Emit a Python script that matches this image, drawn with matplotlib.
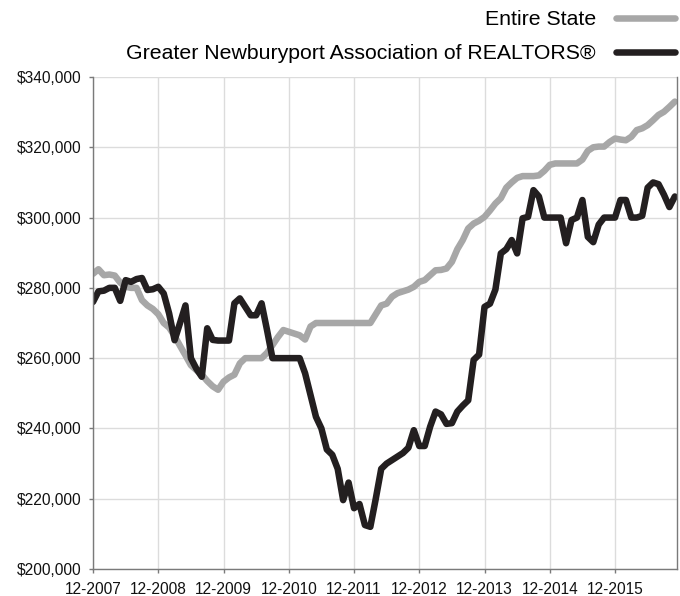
import numpy as np
import matplotlib
matplotlib.use("Agg")
from matplotlib import pyplot as plt
from matplotlib.ticker import FuncFormatter

plt.rcParams['font.family'] = ['Liberation Sans', 'DejaVu Sans']

# median sales price, thousands of dollars, monthly from 12-2007
state = [284, 285.3, 283.6, 283.8, 283.5, 281.5, 280.3, 280, 280, 276.5,
         275, 274, 272.5, 270, 268.7, 266.3, 263.5, 260.8, 258, 256.6,
         255.3, 253.5, 252, 251, 253.3, 254.5, 255.3, 258.5, 260, 260,
         260, 260, 261.5, 263.7, 266, 268, 267.5, 267, 266.5, 265.3,
         269, 270, 270, 270, 270, 270, 270, 270, 270, 270,
         270, 270, 272.5, 275, 275.5, 277.5, 278.5, 279, 279.5, 280.3,
         281.7, 282.2, 283.6, 285, 285.1, 285.5, 287.4, 291, 293.6, 296.9,
         298.3, 299.1, 300.2, 302, 304, 305.5, 308.5, 310, 311.3, 311.8,
         311.8, 311.8, 312, 313.3, 315, 315.4, 315.4, 315.4, 315.4, 315.4,
         316.5, 319, 320, 320.2, 320.2, 321.5, 322.5, 322.2, 322, 323,
         324.9, 325.4, 326.3, 327.7, 329.2, 330.1, 331.5, 333]

newburyport = [276, 279, 279.2, 280, 280, 276.3, 282.2, 281.7, 282.5, 282.8,
               279.4, 279.6, 280.3, 278.4, 272.7, 265.1, 270, 275, 260, 257,
               254.7, 268.5, 265.2, 265, 265, 265, 275.6, 277, 274.6, 272.2,
               272.2, 275.6, 268, 260, 260, 260, 260, 260, 260, 255.7,
               249.5, 243.3, 240, 234, 232.5, 228.5, 219.6, 224.6, 217.3, 218.5,
               212.5, 212, 220, 228.5, 230, 231, 232, 233, 234.5, 239.5,
               235, 235, 240.5, 244.8, 244, 241.3, 241.5, 244.8, 246.5, 248,
               259.5, 261, 274.6, 275.5, 279.5, 289.8, 291, 293.6, 289.8, 299.8,
               300.2, 307.8, 306, 300, 300, 300, 300, 292.7, 299.3, 300,
               305, 294.5, 293, 298, 300, 300, 300, 305, 305, 300,
               300, 300.5, 308.5, 310, 309.5, 306.5, 303, 306]

tick_labels = ['12-2007', '12-2008', '12-2009', '12-2010', '12-2011',
               '12-2012', '12-2013', '12-2014', '12-2015']
y_ticks = [200000, 220000, 240000, 260000, 280000, 300000, 320000, 340000]

state = np.array(state) * 1000
newburyport = np.array(newburyport) * 1000
months = np.arange(len(state))

fig = plt.figure(figsize=(6.8, 5.96), dpi=100)
ax = fig.add_axes([0.1368, 0.0453, 0.8588, 0.8255])

l1, = ax.plot(months, state, color='#a7a7a7', lw=4.7,
              solid_joinstyle='round', solid_capstyle='round',
              label='Entire State')
l2, = ax.plot(months, newburyport, color='#231f20', lw=4.7,
              solid_joinstyle='round', solid_capstyle='round',
              label='Greater Newburyport Association of REALTORS®')

ax.set_xlim(0, len(state) - 0.6)
ax.set_ylim(200000, 340000)
ax.set_xticks(months[::12][:len(tick_labels)])
ax.set_xticklabels(tick_labels)
ax.set_yticks(y_ticks)
ax.yaxis.set_major_formatter(FuncFormatter(lambda v, p: '${:,.0f}'.format(v)))

ax.grid(True, color='#dcdcdc', lw=1)
ax.set_axisbelow(True)
for side in ['left', 'bottom', 'right']:
    ax.spines[side].set_color('#7a7a7a')
    ax.spines[side].set_linewidth(1)
ax.spines['top'].set_visible(False)
ax.tick_params(axis='both', colors='#7a7a7a', length=3, width=1,
               labelcolor='#111111', labelsize=11.2)
ax.tick_params(axis='x', pad=6)
ax.tick_params(axis='y', pad=5)

fig.legend(handles=[l1, l2], loc='upper right', bbox_to_anchor=(1.0, 0.9916),
           frameon=False, markerfirst=False, fontsize=15.3,
           handlelength=2.75, handletextpad=0.95, labelspacing=0.7,
           borderaxespad=0.0, borderpad=0.25)

fig.savefig('out.png', dpi=100)
